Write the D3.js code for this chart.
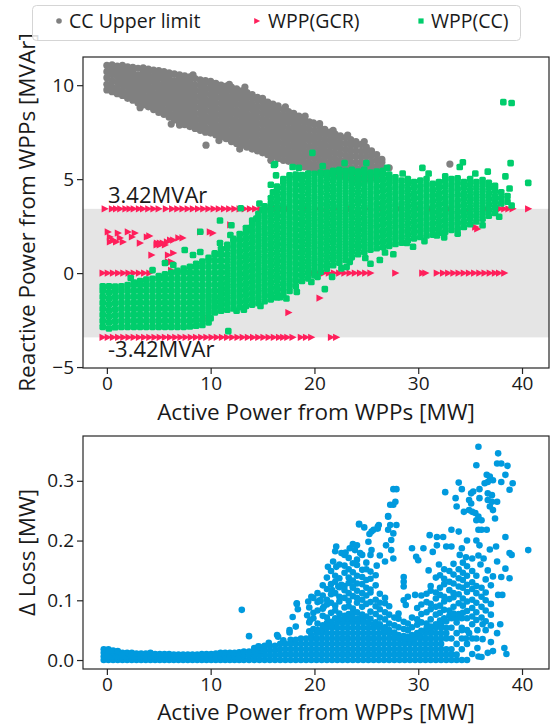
<!DOCTYPE html>
<html><head><meta charset="utf-8">
<script src="https://cdn.jsdelivr.net/npm/d3@7"></script>
<style>
body{margin:0;background:#fff}
svg{display:block}
text{font-family:"Open Sans","Noto Sans",sans-serif;fill:#1a1a1a}
</style></head>
<body><svg id="chart" width="555" height="727"></svg>
<script>
// ---------------- DATA ----------------
const xTicks = [0, 10, 20, 30, 40];
const qTicks = [-5, 0, 5, 10];
const lossTicks = [0.0, 0.1, 0.2, 0.3];
const qLimit = 3.42;
const seriesNames = ["CC Upper limit", "WPP(GCR)", "WPP(CC)"];

// CC upper limit: columns [activePower, reactive values...]
const ccUpperCols = [
[0,9.75,10.05,10.4,10.72,11.05],[0.5,9.65,9.9,10.22,10.55,10.88,11.08],[1,9.55,9.85,10.15,10.45,10.75,11.02],
[1.5,9.45,9.72,10.02,10.33,10.62,10.9,11.05],[2,9.3,9.6,9.9,10.2,10.5,10.8,10.98],[2.5,9.2,9.48,9.78,10.08,10.38,10.68,10.95],
[3,9.05,9.35,9.65,9.95,10.25,10.55,10.9],[3.5,8.95,9.22,9.52,9.82,10.12,10.42,10.72,10.92],[4,8.85,9.1,9.4,9.7,10.0,10.3,10.6,10.85],
[4.5,8.7,8.98,9.28,9.58,9.88,10.18,10.48,10.8],[5,8.55,8.85,9.15,9.45,9.75,10.05,10.35,10.62,10.78],[5.5,8.45,8.72,9.02,9.32,9.62,9.92,10.22,10.52,10.72],
[6,8.3,8.6,8.9,9.2,9.5,9.8,10.1,10.4,10.65],[6.5,8.15,8.45,8.75,9.05,9.35,9.65,9.95,10.25,10.6],[7,8.0,8.3,8.6,8.9,9.2,9.5,9.8,10.1,10.4,10.55],
[7.5,7.9,8.15,8.45,8.75,9.05,9.35,9.65,9.95,10.25,10.5],[8,7.8,8.05,8.35,8.65,8.95,9.25,9.55,9.85,10.15,10.45],[8.5,7.7,7.95,8.22,8.52,8.82,9.12,9.42,9.72,10.02,10.35],
[9,7.6,7.88,8.18,8.48,8.78,9.08,9.38,9.68,9.98,10.28],[9.5,7.5,7.75,8.05,8.35,8.65,8.95,9.25,9.55,9.85,10.15,10.25],[10,7.45,7.7,8.0,8.3,8.6,8.9,9.2,9.5,9.8,10.1,10.2],
[10.5,7.35,7.6,7.88,8.18,8.48,8.78,9.08,9.38,9.68,9.98,10.1],[11,7.25,7.52,7.82,8.12,8.42,8.72,9.02,9.32,9.62,9.92,10.0],[11.5,7.15,7.4,7.7,8.0,8.3,8.6,8.9,9.2,9.5,9.8,9.95],
[12,7.0,7.3,7.6,7.9,8.2,8.5,8.8,9.1,9.4,9.7,9.9],[12.5,6.9,7.18,7.48,7.78,8.08,8.38,8.68,8.98,9.28,9.58,9.8],[13,6.8,7.1,7.4,7.7,8.0,8.3,8.6,8.9,9.2,9.5,9.7],
[13.5,6.7,6.98,7.28,7.58,7.88,8.18,8.48,8.78,9.08,9.38,9.6],[14,6.6,6.9,7.2,7.5,7.8,8.1,8.4,8.7,9.0,9.3,9.5],[14.5,6.5,6.78,7.08,7.38,7.68,7.98,8.28,8.58,8.88,9.18,9.35],
[15,6.4,6.7,7.0,7.3,7.6,7.9,8.2,8.5,8.8,9.1,9.25],[15.5,6.3,6.58,6.88,7.18,7.48,7.78,8.08,8.38,8.68,8.95,9.1],[16,6.2,6.5,6.8,7.1,7.4,7.7,8.0,8.3,8.6,8.9,9.0],
[16.5,6.1,6.38,6.68,6.98,7.28,7.58,7.88,8.18,8.48,8.78,8.9],[17,6.0,6.3,6.6,6.9,7.2,7.5,7.8,8.1,8.4,8.7],[17.5,5.95,6.2,6.5,6.8,7.1,7.4,7.7,8.0,8.3,8.6],
[18,5.85,6.12,6.42,6.72,7.02,7.32,7.62,7.92,8.22,8.5],[18.5,5.75,6.0,6.3,6.6,6.9,7.2,7.5,7.8,8.1,8.35],[19,5.65,5.92,6.22,6.52,6.82,7.12,7.42,7.72,8.02,8.2],
[19.5,5.6,5.85,6.15,6.45,6.75,7.05,7.35,7.65,7.95,8.05],[20,5.5,5.78,6.08,6.38,6.68,6.98,7.28,7.58,7.9],[20.5,5.45,5.7,6.0,6.3,6.6,6.9,7.2,7.5,7.8],
[21,5.35,5.62,5.92,6.22,6.52,6.82,7.12,7.42,7.65],[21.5,5.3,5.55,5.85,6.15,6.45,6.75,7.05,7.35,7.5],[22,5.2,5.48,5.78,6.08,6.38,6.68,6.98,7.25,7.4],
[22.5,5.15,5.42,5.72,6.02,6.32,6.62,6.92,7.2,7.3],[23,5.1,5.38,5.68,5.98,6.28,6.58,6.88,7.2],[23.5,5.05,5.32,5.62,5.92,6.22,6.52,6.82,7.1],
[24,5.0,5.3,5.6,5.9,6.2,6.5,6.8,7.0],[24.5,5.0,5.28,5.58,5.88,6.18,6.48,6.85],[25,5.0,5.3,5.6,5.9,6.2,6.5,6.7],
[25.5,5.05,5.35,5.65,5.95,6.25,6.5],[26,5.1,5.4,5.7,6.0,6.3],[26.5,5.3,5.6,5.9,6.05]
];
const ccUpperExtra = [[6.2,7.93],[7.0,7.88],[9.55,6.81],[13.3,9.9],[15.0,9.3],[17.2,8.85],[19.1,8.35],[19.9,8.0],[20.5,7.95],[27.2,5.6],[33.05,5.8],[8.3,10.55],[11.8,10.05],[3.2,8.8],[10.8,7.05],[12.8,6.6],[15.8,6.0],[21.8,7.6],[23.2,7.35],[24.8,7.0]];

// WPP(GCR): rows clipped at +3.42, 0 and -3.42, plus free points
const gcrTopX = [-0.2,0.5,0.9,1.3,1.8,2.2,2.6,3.1,3.5,4.0,4.5,5.0,5.7,6.3,6.8,7.3,7.8,8.3,8.8,9.3,9.8,10.3,10.8,11.3,11.8,12.3,12.8,13.3,13.8,14.3,14.8,15.3,15.8,16.3,16.8,17.5,18.3,19.2,20.2,21.2,22.0,23.5,25.0,26.4,28.2,30.0,31.2,33.0,35.0,36.5,37.9,38.3,38.7,39.1,40.6];
const gcrZeroX = [-0.4,0.1,0.6,1.1,1.6,2.1,2.6,3.1,3.6,4.1,19.9,20.4,20.9,21.4,21.9,22.4,22.9,23.4,23.9,24.4,24.9,25.4,27.8,30.4,30.7,31.8,32.4,32.9,33.4,33.9,34.4,34.9,35.4,35.9,36.4,36.9,37.4,37.8,38.3];
const gcrBottomX = [-0.4,0.1,0.6,1.1,1.6,2.1,2.6,3.1,3.6,4.1,4.6,5.1,5.6,6.1,6.6,7.1,7.6,8.1,8.6,9.1,9.6,10.1,10.6,11.1,11.6,12.1,12.6,13.1,13.6,14.1,14.6,15.1,15.6,16.1,16.6,17.0,17.4,17.9,18.7,19.2,19.7,21.6,22.1];
const gcrFree = [[0.1,2.19],[0.3,1.92],[0.3,1.66],[0.6,1.76],[0.9,1.66],[1.07,2.13],[1.26,1.87],[1.55,1.66],[2.03,2.19],[2.42,1.92],[2.7,2.13],[3.19,1.6],[3.86,1.92],[4.1,1.98],[4.83,1.6],[5.12,1.6],[5.4,1.6],[5.8,1.66],[6.1,1.76],[6.4,1.76],[6.9,1.87],[7.3,1.87],[9.0,2.19],[9.93,2.19],[10.2,2.13],[4.3,0.96],[4.8,1.5],[5.1,1.5],[5.6,1.5],[5.9,0.96],[6.4,1.07],[5.9,0.6],[6.2,0.6],[6.2,0.15],[9.8,-2.4],[17.5,-2.1],[20.5,-1.33],[11.9,2.57],[35.5,2.45],[35.7,2.35]];

// WPP(CC): columns [activePower, reactive values...]
const ccCols = [
[-0.4,-2.86,-2.54,-2.22,-1.9,-1.58,-1.26,-0.94,-0.7],[0.2,-2.95,-2.62,-2.3,-1.98,-1.66,-1.34,-1.02,-0.7],[0.8,-2.88,-2.56,-2.24,-1.92,-1.6,-1.28,-0.96,-0.72],
[1.4,-2.86,-2.54,-2.22,-1.9,-1.58,-1.26,-0.94,-0.7],[2.0,-2.86,-2.54,-2.22,-1.9,-1.58,-1.26,-0.94,-0.64],[2.6,-2.86,-2.54,-2.22,-1.9,-1.58,-1.26,-0.94,-0.62,-0.5],
[3.2,-2.86,-2.54,-2.22,-1.9,-1.58,-1.26,-0.94,-0.62,-0.42],[3.8,-2.86,-2.54,-2.22,-1.9,-1.58,-1.26,-0.94,-0.62,-0.34],[4.4,-2.86,-2.54,-2.22,-1.9,-1.58,-1.26,-0.94,-0.62,-0.3],
[5.0,-2.86,-2.54,-2.22,-1.9,-1.58,-1.26,-0.94,-0.62,-0.3,-0.16],[5.6,-2.86,-2.54,-2.22,-1.9,-1.58,-1.26,-0.94,-0.62,-0.3,-0.06],[6.2,-2.86,-2.54,-2.22,-1.9,-1.58,-1.26,-0.94,-0.62,-0.3,0.02],
[6.8,-2.86,-2.54,-2.22,-1.9,-1.58,-1.26,-0.94,-0.62,-0.3,0.02,0.12],[7.4,-2.86,-2.54,-2.22,-1.9,-1.58,-1.26,-0.94,-0.62,-0.3,0.02,0.24],[8.0,-2.84,-2.54,-2.22,-1.9,-1.58,-1.26,-0.94,-0.62,-0.3,0.02,0.34],
[8.6,-2.8,-2.5,-2.2,-1.9,-1.58,-1.26,-0.94,-0.62,-0.3,0.02,0.34,0.5],[9.2,-2.76,-2.48,-2.18,-1.88,-1.58,-1.26,-0.94,-0.62,-0.3,0.02,0.34,0.62],[9.8,-2.62,-2.34,-2.06,-1.78,-1.5,-1.22,-0.94,-0.62,-0.3,0.02,0.34,0.66,0.82],
[10.4,-2.1,-1.82,-1.54,-1.26,-0.94,-0.62,-0.3,0.02,0.34,0.66,0.98,1.06],[11.0,-2.0,-1.72,-1.44,-1.16,-0.88,-0.6,-0.3,0.02,0.34,0.66,0.98,1.28],[11.6,-1.95,-1.66,-1.38,-1.1,-0.82,-0.54,-0.26,0.04,0.34,0.66,0.98,1.3,1.5],
[12.2,-1.88,-1.58,-1.28,-0.98,-0.68,-0.38,-0.08,0.22,0.52,0.82,1.12,1.42,1.72,1.82],[12.8,-1.82,-1.52,-1.22,-0.92,-0.62,-0.32,-0.02,0.28,0.58,0.88,1.18,1.48,1.78,2.08],
[13.4,-1.75,-1.45,-1.15,-0.85,-0.55,-0.25,0.05,0.35,0.65,0.95,1.25,1.55,1.85,2.15,2.4],[14.0,-1.68,-1.38,-1.08,-0.78,-0.48,-0.18,0.12,0.42,0.72,1.02,1.32,1.62,1.92,2.22,2.52,2.8],
[14.6,-1.6,-1.3,-1.0,-0.7,-0.4,-0.1,0.2,0.5,0.8,1.1,1.4,1.7,2.0,2.3,2.6,2.9,3.15],[15.2,-1.5,-1.2,-0.9,-0.6,-0.3,0.0,0.3,0.6,0.9,1.2,1.5,1.8,2.1,2.4,2.7,3.0,3.3,3.55],
[15.8,-1.4,-1.1,-0.8,-0.5,-0.2,0.1,0.4,0.7,1.0,1.3,1.6,1.9,2.2,2.5,2.8,3.1,3.4,3.7,4.0],[16.4,-1.3,-1.0,-0.7,-0.4,-0.1,0.2,0.5,0.8,1.1,1.4,1.7,2.0,2.3,2.6,2.9,3.2,3.5,3.8,4.1,4.4,4.6],
[17.0,-1.15,-0.85,-0.55,-0.25,0.05,0.35,0.65,0.95,1.25,1.55,1.85,2.15,2.45,2.75,3.05,3.35,3.65,3.95,4.25,4.55,4.85,5.0],
[17.6,-0.95,-0.65,-0.35,-0.05,0.25,0.55,0.85,1.15,1.45,1.75,2.05,2.35,2.65,2.95,3.25,3.55,3.85,4.15,4.45,4.75,5.05,5.2],
[18.2,-0.7,-0.4,-0.1,0.2,0.5,0.8,1.1,1.4,1.7,2.0,2.3,2.6,2.9,3.2,3.5,3.8,4.1,4.4,4.7,5.0,5.25],
[18.8,-0.42,-0.12,0.18,0.48,0.78,1.08,1.38,1.68,1.98,2.28,2.58,2.88,3.18,3.48,3.78,4.08,4.38,4.68,4.98,5.22],
[19.4,-0.28,0.02,0.32,0.62,0.92,1.22,1.52,1.82,2.12,2.42,2.72,3.02,3.32,3.62,3.92,4.22,4.52,4.82,5.12,5.3],
[20.0,-0.12,0.18,0.48,0.78,1.08,1.38,1.68,1.98,2.28,2.58,2.88,3.18,3.48,3.78,4.08,4.38,4.68,4.98,5.28],
[20.6,0.08,0.38,0.68,0.98,1.28,1.58,1.88,2.18,2.48,2.78,3.08,3.38,3.68,3.98,4.28,4.58,4.88,5.18,5.35],
[21.2,0.24,0.54,0.84,1.14,1.44,1.74,2.04,2.34,2.64,2.94,3.24,3.54,3.84,4.14,4.44,4.74,5.04,5.34],
[21.8,0.42,0.72,1.02,1.32,1.62,1.92,2.22,2.52,2.82,3.12,3.42,3.72,4.02,4.32,4.62,4.92,5.22,5.45],
[22.4,0.55,0.85,1.15,1.45,1.75,2.05,2.35,2.65,2.95,3.25,3.55,3.85,4.15,4.45,4.75,5.05,5.35,5.5],
[23.0,0.7,1.0,1.3,1.6,1.9,2.2,2.5,2.8,3.1,3.4,3.7,4.0,4.3,4.6,4.9,5.2,5.45],
[23.6,0.85,1.15,1.45,1.75,2.05,2.35,2.65,2.95,3.25,3.55,3.85,4.15,4.45,4.75,5.05,5.35,5.5],
[24.2,1.0,1.3,1.6,1.9,2.2,2.5,2.8,3.1,3.4,3.7,4.0,4.3,4.6,4.9,5.2,5.4],
[24.8,1.12,1.42,1.72,2.02,2.32,2.62,2.92,3.22,3.52,3.82,4.12,4.42,4.72,5.02,5.32,5.5],
[25.4,1.25,1.55,1.85,2.15,2.45,2.75,3.05,3.35,3.65,3.95,4.25,4.55,4.85,5.15,5.35],
[26.0,1.32,1.62,1.92,2.22,2.52,2.82,3.12,3.42,3.72,4.02,4.32,4.62,4.92,5.22,5.4],
[26.6,1.38,1.68,1.98,2.28,2.58,2.88,3.18,3.48,3.78,4.08,4.38,4.68,4.98,5.28,5.45],
[27.2,1.45,1.75,2.05,2.35,2.65,2.95,3.25,3.55,3.85,4.15,4.45,4.75,5.05,5.25],
[27.8,1.55,1.85,2.15,2.45,2.75,3.05,3.35,3.65,3.95,4.25,4.55,4.85,5.1],
[28.4,1.62,1.92,2.22,2.52,2.82,3.12,3.42,3.72,4.02,4.32,4.62,4.92],
[29.0,1.75,2.05,2.35,2.65,2.95,3.25,3.55,3.85,4.15,4.45,4.75,5.0],
[29.6,1.85,2.15,2.45,2.75,3.05,3.35,3.65,3.95,4.25,4.55,4.85],
[30.2,1.92,2.22,2.52,2.82,3.12,3.42,3.72,4.02,4.32,4.62,4.92],
[30.8,2.0,2.3,2.6,2.9,3.2,3.5,3.8,4.1,4.4,4.7,5.0],
[31.4,2.05,2.35,2.65,2.95,3.25,3.55,3.85,4.15,4.45,4.75],
[32.0,2.15,2.45,2.75,3.05,3.35,3.65,3.95,4.25,4.55,4.85],
[32.6,2.2,2.5,2.8,3.1,3.4,3.7,4.0,4.3,4.6,4.9,5.15],
[33.2,2.3,2.6,2.9,3.2,3.5,3.8,4.1,4.4,4.7,5.0],
[33.8,2.38,2.68,2.98,3.28,3.58,3.88,4.18,4.48,4.78,5.05],
[34.4,2.45,2.75,3.05,3.35,3.65,3.95,4.25,4.55,4.85],
[35.0,2.6,2.9,3.2,3.5,3.8,4.1,4.4,4.7,5.0],
[35.6,2.75,3.05,3.35,3.65,3.95,4.25,4.55,4.85],
[36.2,2.9,3.2,3.5,3.8,4.1,4.4,4.7,4.95],
[36.8,3.05,3.35,3.65,3.95,4.25,4.55,4.8],
[37.4,3.2,3.5,3.8,4.1,4.4,4.65],
[38.0,3.7,4.0,4.3],
[38.6,3.8,4.1]
];
const ccFree = [[16.2,5.8],[16.3,5.2],[17.9,5.65],[19.8,6.4],[15.8,4.7],[16.0,4.3],[14.7,3.7],[12.9,3.45],[10.9,2.8],[12.0,2.55],[9.0,2.2],[7.5,1.23],[5.6,0.54],[6.4,0.43],[4.4,0.16],[2.3,-0.26],[8.3,0.96],[9.0,1.12],[10.9,1.6],[11.9,2.03],[13.8,2.4],[14.4,2.9],[15.0,3.36],[11.7,-3.09],[10.0,-2.4],[16.7,-1.28],[15.8,-1.17],[19.7,-0.47],[21.0,-0.85],[20.3,-0.2],[21.7,-0.2],[23.1,0.33],[23.4,0.6],[24.9,0.8],[25.4,0.5],[26.3,0.7],[27.6,1.0],[28.9,1.6],[29.5,1.4],[31.8,2.0],[32.5,1.9],[38.2,9.1],[39.0,9.05],[38.9,5.85],[40.6,4.8],[38.8,4.5],[38.4,5.15],[36.7,5.4],[34.3,5.9],[34.0,5.65],[30.4,5.6],[27.0,5.6],[25.0,5.85],[16.1,5.75],[39.0,3.6],[35.5,5.3],[31.0,5.3],[28.5,5.3],[22.9,5.85],[20.8,5.7],[18.5,5.6],[12.5,-2.0],[13.2,-1.95],[14.8,-1.75],[17.3,-1.35],[18.3,-1.0],[22.6,0.25],[26.8,1.1],[30.6,1.7],[33.8,2.1],[36.2,2.55],[37.8,3.0]];

// Delta loss: dense columns [activePower, loss values...]
const lossCols = [
[-0.3,0,0.006,0.012,0.018],[0.15,0,0.006,0.012,0.018],[0.6,0,0.006,0.012,0.016],[1.05,0,0.006,0.012,0.015],[1.5,0,0.006,0.012],[1.95,0,0.006,0.012],[2.4,0,0.006,0.012],
[2.85,0,0.006,0.011],[3.3,0,0.006,0.011],[3.75,0,0.006,0.011],[4.2,0,0.006,0.012],[4.65,0,0.006,0.01],[5.1,0,0.006,0.01],[5.55,0,0.005,0.01],[6.0,0,0.005,0.01],
[6.45,0,0.005,0.009],[6.9,0,0.005,0.009],[7.35,0,0.005,0.009],[7.8,0,0.005,0.009],[8.25,0,0.005,0.009],[8.7,0,0.005,0.009],[9.15,0,0.005,0.01],[9.6,0,0.005,0.01],
[10.05,0,0.006,0.01],[10.5,0,0.006,0.011],[10.95,0,0.006,0.012],[11.4,0,0.006,0.012],[11.85,0,0.006,0.012],[12.3,0,0.006,0.012],[12.75,0,0.006,0.013],
[13.2,0,0.007,0.014],[13.7,0,0.007,0.014],[14.2,0,0.007,0.014,0.02],[14.7,0,0.008,0.016,0.022],[15.2,0,0.008,0.016,0.024],[15.7,0,0.008,0.016,0.024],
[16.2,0,0.008,0.016,0.024],[16.7,0,0.009,0.018,0.027],[17.2,0,0.009,0.018,0.027],[17.7,0,0.009,0.018,0.027,0.034],[18.2,0,0.009,0.018,0.027,0.034],
[18.7,0,0.009,0.018,0.027,0.036],[19.2,0,0.009,0.018,0.027,0.036],[19.7,0,0.009,0.018,0.027,0.036,0.042],[20.2,0,0.009,0.018,0.027,0.036,0.045],
[20.7,0,0.009,0.018,0.027,0.036,0.045,0.05],[21.2,0,0.009,0.018,0.027,0.036,0.045,0.054],[21.7,0,0.009,0.018,0.027,0.036,0.045,0.054,0.058],
[22.2,0,0.009,0.018,0.027,0.036,0.045,0.054,0.063],[22.7,0,0.009,0.018,0.027,0.036,0.045,0.054,0.063,0.066],[23.2,0,0.009,0.018,0.027,0.036,0.045,0.054,0.063,0.07],
[23.7,0,0.009,0.018,0.027,0.036,0.045,0.054,0.063,0.07],[24.2,0,0.009,0.018,0.027,0.036,0.045,0.054,0.063,0.07],[24.7,0,0.009,0.018,0.027,0.036,0.045,0.054,0.063,0.068],
[25.2,0,0.009,0.018,0.027,0.036,0.045,0.054,0.063],[25.7,0,0.009,0.018,0.027,0.036,0.045,0.054,0.06],[26.2,0,0.009,0.018,0.027,0.036,0.045,0.055],
[26.7,0,0.009,0.018,0.027,0.036,0.045,0.05],[27.2,0,0.009,0.018,0.027,0.036,0.045],[27.7,0,0.009,0.018,0.027,0.036,0.04],[28.2,0,0.009,0.018,0.027,0.036],
[28.7,0,0.009,0.018,0.027,0.032],[29.2,0,0.009,0.018,0.027,0.032],[29.7,0,0.009,0.018,0.027,0.036],[30.2,0,0.009,0.018,0.027,0.036,0.04],
[30.7,0,0.009,0.018,0.027,0.036,0.045],[31.2,0,0.009,0.018,0.027,0.036,0.045,0.05],[31.7,0,0.009,0.018,0.027,0.036,0.045,0.055],
[32.2,0,0.009,0.018,0.027,0.036,0.045,0.054,0.06],[32.7,0,0.009,0.018,0.036,0.045,0.054,0.065],[33.2,0,0.009,0.018,0.036,0.054,0.07],
[33.7,0,0.009,0.027,0.045,0.063,0.07],[34.2,0,0.018,0.036,0.054,0.07],[34.7,0,0.027,0.05,0.07],[35.2,0.01,0.036,0.06],[35.7,0.02,0.05],[36.2,0.035,0.06]
];
// Delta loss: looser, irregular columns above the dense core
const lossLooseCols = [
[19.5,0.048,0.063,0.088],[19.9,0.052,0.07,0.079,0.104],[20.3,0.05,0.061,0.083,0.097,0.112],[20.8,0.058,0.074,0.086,0.108,0.125],
[21.2,0.062,0.071,0.093,0.101,0.119,0.138],[21.6,0.064,0.079,0.096,0.11,0.127,0.149],[22.0,0.07,0.083,0.091,0.112,0.131,0.141],
[22.4,0.069,0.078,0.098,0.106,0.122,0.137,0.16],[22.9,0.074,0.088,0.104,0.117,0.124,0.146,0.158],[23.3,0.077,0.09,0.099,0.112,0.129,0.138,0.152,0.171],
[23.7,0.078,0.086,0.107,0.121,0.133,0.147,0.162],[24.1,0.08,0.096,0.104,0.116,0.128,0.141,0.159,0.168],[24.6,0.076,0.089,0.101,0.112,0.127,0.139,0.151],
[25.0,0.073,0.094,0.108,0.121,0.134,0.152,0.163],[25.4,0.069,0.081,0.097,0.113,0.118,0.136,0.148],[25.9,0.063,0.077,0.09,0.101,0.125,0.142],
[26.3,0.06,0.071,0.085,0.096,0.111],[26.8,0.055,0.068,0.08,0.095,0.104],[27.2,0.05,0.061,0.076,0.09],[27.7,0.046,0.058,0.071],
[28.1,0.042,0.055,0.069,0.078],[28.6,0.04,0.052,0.064],[29.0,0.039,0.05,0.061],
[29.4,0.042,0.055,0.071],[29.9,0.045,0.059,0.068,0.087],[30.3,0.049,0.063,0.077,0.093,0.108],[30.8,0.053,0.061,0.08,0.097,0.111],
[31.2,0.056,0.068,0.085,0.094,0.116,0.124],[31.7,0.06,0.076,0.089,0.103,0.113,0.138],[32.1,0.066,0.079,0.091,0.109,0.121,0.142],
[32.5,0.07,0.084,0.098,0.106,0.127,0.136,0.152],[33.0,0.074,0.083,0.102,0.117,0.131,0.149],[33.4,0.078,0.089,0.105,0.112,0.128,0.143,0.161],
[33.9,0.077,0.095,0.11,0.123,0.137,0.152],[34.3,0.079,0.091,0.103,0.121,0.134,0.146,0.163],[34.7,0.082,0.098,0.114,0.126,0.141,0.157],
[35.2,0.073,0.087,0.101,0.119,0.13,0.149],[35.6,0.067,0.08,0.096,0.112,0.124,0.141],[36.1,0.071,0.089,0.106,0.121],[36.5,0.065,0.083,0.1,0.113],[37.0,0.058,0.076,0.094]
];
const lossFree = [[13.0,0.084],[13.7,0.04],[14.6,0.023],[15.6,0.029],[16.5,0.039],[17.6,0.046],[17.9,0.072],[18.3,0.094],[18.4,0.085],[18.2,0.056],[19.3,0.075],[19.6,0.067],[19.7,0.106],[19.4,0.098],[20.6,0.099],[20.9,0.089],[21.3,0.156],[22.1,0.156],[22.0,0.182],[22.6,0.179],[22.9,0.176],[23.4,0.187],[23.7,0.194],[23.9,0.184],[24.4,0.179],[24.3,0.227],[24.8,0.222],[25.5,0.215],[26.1,0.22],[26.2,0.226],[27.1,0.241],[27.6,0.286],[27.9,0.286],[27.8,0.265],[27.6,0.26],[27.3,0.26],[27.1,0.24],[27.3,0.226],[27.9,0.226],[27.1,0.218],[26.1,0.223],[25.7,0.218],[25.3,0.211],[24.3,0.228],[27.6,0.212],[27.4,0.201],[26.9,0.192],[27.4,0.184],[27.6,0.17],[25.2,0.198],[24.1,0.192],[22.1,0.19],[25.5,0.184],[25.4,0.176],[21.7,0.117],[22.3,0.123],[22.6,0.126],[23.7,0.123],[20.5,0.1],[18.3,0.095],[17.6,0.05],[16.4,0.042],[17.0,0.033],
[28.6,0.139],[28.6,0.131],[28.6,0.123],[29.0,0.106],[29.7,0.109],[28.8,0.092],[28.6,0.1],
[35.8,0.357],[37.7,0.346],[35.6,0.326],[37.6,0.329],[38.0,0.329],[38.6,0.325],[38.4,0.31],[36.6,0.31],[36.9,0.307],[37.2,0.301],[36.4,0.296],[36.7,0.298],[38.0,0.298],[39.1,0.296],[38.8,0.285],[33.9,0.297],[34.2,0.286],[32.6,0.281],[35.1,0.279],[35.3,0.282],[35.9,0.286],[35.9,0.271],[36.7,0.279],[37.1,0.276],[36.7,0.268],[37.1,0.265],[37.6,0.265],[36.9,0.257],[37.2,0.251],[33.6,0.271],[33.7,0.257],[34.9,0.268],[35.1,0.262],[34.9,0.251],[35.2,0.248],[35.5,0.246],[35.8,0.24],[34.4,0.248],[35.6,0.234],[36.1,0.234],[37.4,0.237],[35.8,0.218],[36.1,0.218],[36.6,0.218],[38.4,0.206],[31.1,0.209],[31.8,0.206],[32.4,0.206],[33.2,0.218],[33.9,0.215],[34.7,0.2],[35.6,0.2],[35.9,0.192],[32.7,0.19],[33.2,0.19],[34.2,0.187],[31.8,0.192],[30.5,0.187],[29.4,0.187],[29.8,0.173],[30.0,0.167],[31.4,0.181],[38.8,0.179],[39.0,0.176],[40.6,0.184],[38.4,0.153],[38.0,0.139],[38.8,0.137],[37.7,0.109],[38.1,0.109],[37.6,0.045],[38.3,0.02],[36.7,0.012],[35.8,0.006],[36.1,0.005],
[34.0,0.176],[34.6,0.172],[35.2,0.17],[35.8,0.175],[36.3,0.17],[36.0,0.16],[36.7,0.15],[37.2,0.14],[37.0,0.125],[36.5,0.135],[37.6,0.165],[36.9,0.185],[37.5,0.19],[31.0,0.15],[32.0,0.16],
[21.8,0.165],[23.0,0.18],[24.6,0.176],[26.0,0.158],[26.8,0.165],[26.3,0.175],
[37.0,0.03],[36.5,0.05],[38.5,0.01],[37.9,0.06],[37.2,0.015],[35.6,0.036],[34.6,0.036],[34.9,0.045],[34.2,0.05]];

// ---------------- CHART ----------------
const colors = {upper:"#808080", gcr:"#FF1F5B", cc:"#00CD6C", loss:"#009ADE", band:"#E5E5E5", axis:"#262626"};
const expand = cols => cols.flatMap(c => c.slice(1).map(v => [c[0], v]));
const upperPts = expand(ccUpperCols).concat(ccUpperExtra);
const gcrPts = gcrTopX.map(x => [x, qLimit]).concat(gcrZeroX.map(x => [x, 0]), gcrBottomX.map(x => [x, -qLimit]), gcrFree);
const ccPts = expand(ccCols).concat(ccFree);
const lossPts = expand(lossCols).concat(expand(lossLooseCols), lossFree);

const svg = d3.select("#chart");
const L = 83, R = 549;
const x = d3.scaleLinear().domain([-2.3, 42.6]).range([L, R]);
const yq = d3.scaleLinear().domain([-5.05, 11.5]).range([368, 57]);
const yl = d3.scaleLinear().domain([-0.015, 0.375]).range([669, 436]);

function clip(id, y0, y1){
  svg.append("clipPath").attr("id", id).append("rect").attr("x", L).attr("y", y0).attr("width", R - L).attr("height", y1 - y0);
}
clip("c1", 57, 368); clip("c2", 436, 669);

// top panel
const g1 = svg.append("g").attr("clip-path", "url(#c1)");
g1.append("rect").attr("x", L).attr("width", R - L).attr("y", yq(qLimit)).attr("height", yq(-qLimit) - yq(qLimit)).attr("fill", colors.band);
g1.append("g").selectAll("circle").data(upperPts).join("circle")
  .attr("cx", d => x(d[0])).attr("cy", d => yq(d[1])).attr("r", 3.6).attr("fill", colors.upper);
const tri = "M-3.2,-3.6L4,0L-3.2,3.6Z";
g1.append("g").selectAll("path").data(gcrPts).join("path")
  .attr("d", tri).attr("transform", d => `translate(${x(d[0])},${yq(d[1])})`).attr("fill", colors.gcr);
g1.append("g").selectAll("rect").data(ccPts).join("rect")
  .attr("x", d => x(d[0]) - 3.3).attr("y", d => yq(d[1]) - 3.3).attr("width", 6.6).attr("height", 6.6).attr("rx", 1.6).attr("fill", colors.cc);

svg.append("text").attr("x", 108).attr("y", 203).attr("font-size", 22).text(qLimit.toFixed(2) + "MVAr");
svg.append("text").attr("x", 108).attr("y", 357).attr("font-size", 22).text("-" + qLimit.toFixed(2) + "MVAr");

// bottom panel
const g2 = svg.append("g").attr("clip-path", "url(#c2)");
g2.append("g").selectAll("circle").data(lossPts).join("circle")
  .attr("cx", d => x(d[0])).attr("cy", d => yl(d[1])).attr("r", 3.3).attr("fill", colors.loss);

// axes
function styleAxis(g){
  g.select(".domain").remove();
  g.selectAll(".tick line").attr("stroke", colors.axis).attr("stroke-width", 1.2);
  g.selectAll(".tick text").attr("font-size", 19).attr("fill", "#1a1a1a").attr("font-family", '"Open Sans","Noto Sans",sans-serif');
}
const fmtQ = d => d < 0 ? "\u2212" + Math.abs(d) : String(d);
svg.append("g").attr("transform", "translate(0,368)").call(d3.axisBottom(x).tickValues(xTicks).tickSize(6).tickPadding(3)).call(styleAxis);
svg.append("g").attr("transform", `translate(${L},0)`).call(d3.axisLeft(yq).tickValues(qTicks).tickFormat(fmtQ).tickSize(6).tickPadding(3)).call(styleAxis);
svg.append("g").attr("transform", "translate(0,669)").call(d3.axisBottom(x).tickValues(xTicks).tickSize(6).tickPadding(3)).call(styleAxis);
svg.append("g").attr("transform", `translate(${L},0)`).call(d3.axisLeft(yl).tickValues(lossTicks).tickFormat(d3.format(".1f")).tickSize(6).tickPadding(3)).call(styleAxis);

svg.append("rect").attr("x", L).attr("y", 57).attr("width", R - L).attr("height", 311).attr("fill", "none").attr("stroke", colors.axis).attr("stroke-width", 1.2);
svg.append("rect").attr("x", L).attr("y", 436).attr("width", R - L).attr("height", 233).attr("fill", "none").attr("stroke", colors.axis).attr("stroke-width", 1.2);

// axis labels
svg.append("text").attr("x", (L + R) / 2).attr("y", 420).attr("text-anchor", "middle").attr("font-size", 22.5).text("Active Power from WPPs [MW]");
svg.append("text").attr("x", (L + R) / 2).attr("y", 720).attr("text-anchor", "middle").attr("font-size", 22.5).text("Active Power from WPPs [MW]");
svg.append("text").attr("transform", "translate(35,212.5) rotate(-90)").attr("text-anchor", "middle").attr("font-size", 22.5).text("Reactive Power from WPPs [MVAr]");
svg.append("text").attr("transform", "translate(35,552.5) rotate(-90)").attr("text-anchor", "middle").attr("font-size", 22.5).text("\u0394 Loss [MW]");

// legend
const lg = svg.append("g");
lg.append("rect").attr("x", 32.5).attr("y", 5.5).attr("width", 488).attr("height", 35).attr("rx", 4)
  .attr("fill", "#fff").attr("fill-opacity", 0.85).attr("stroke", "#d5d5d5");
const items = [
  {name: seriesNames[0], mx: 59, tx: 69, kind: "circle", color: colors.upper},
  {name: seriesNames[1], mx: 257, tx: 268, kind: "tri", color: colors.gcr},
  {name: seriesNames[2], mx: 421, tx: 431, kind: "square", color: colors.cc}
];
items.forEach(it => {
  if (it.kind === "circle") lg.append("circle").attr("cx", it.mx).attr("cy", 21).attr("r", 2.8).attr("fill", it.color);
  else if (it.kind === "tri") lg.append("path").attr("d", "M-2.8,-3L3.2,0L-2.8,3Z").attr("transform", `translate(${it.mx},21)`).attr("fill", it.color);
  else lg.append("rect").attr("x", it.mx - 2.6).attr("y", 18.4).attr("width", 5.2).attr("height", 5.2).attr("fill", it.color);
  lg.append("text").attr("x", it.tx).attr("y", 28).attr("font-size", 19.5).text(it.name);
});
</script></body></html>
